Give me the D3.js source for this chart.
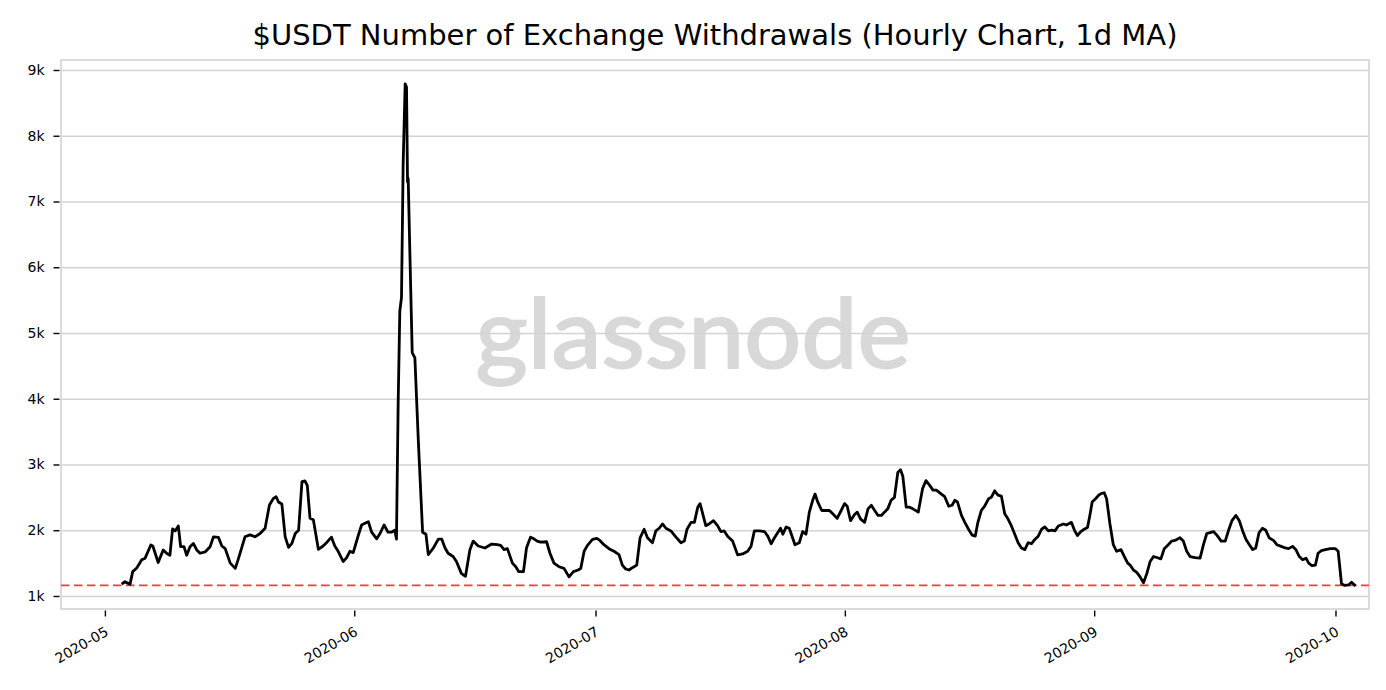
<!DOCTYPE html>
<html>
<head>
<meta charset="utf-8">
<script src="https://cdn.jsdelivr.net/npm/d3@7"></script>
<style>
    body { margin: 0; background: #fff; }
    .axis text { font-family: "DejaVu Sans", sans-serif; font-size: 14px; fill: #000; }
    .axis line { stroke: #000; stroke-width: 1.4; }
    .axis path { display: none; }
    .grid line { stroke: #d3d3d3; stroke-width: 1.3; }
    .grid path { display: none; }
</style>
</head>
<body>
<div id="chart"></div>
<script>
//hours since 2020-05-01 00:00 UTC
var hours = [50, 60, 75, 83, 95, 110, 120, 137, 143, 159, 174, 184, 194, 202, 210, 219, 226, 236, 244, 254,
    264, 274, 284, 299, 314, 324, 339, 349, 359, 374, 389, 398, 418, 433, 448, 463, 478, 491, 503, 511,
    518, 528, 538, 548, 558, 568, 578,
    588, 597, 604, 612, 622, 637, 651, 662, 676, 686, 696, 711, 721, 731, 741, 756, 766, 776, 786, 796,
    811, 821, 833, 845, 855, 865, 870, 875, 880, 885, 890, 896, 900, 903, 905, 910, 917, 925, 935, 948,
    958, 965, 980, 995, 1005, 1015, 1024, 1039, 1049, 1064, 1076, 1089, 1099, 1114, 1134, 1154,
    1171, 1181, 1191, 1201, 1216, 1226, 1235, 1249, 1258, 1270, 1280, 1290, 1300, 1318, 1328, 1340, 1355, 1370,
    1385, 1398, 1412, 1420, 1430, 1440, 1455, 1468, 1477, 1489, 1504, 1519, 1534, 1544, 1554, 1564, 1574, 1587, 1597, 1609,
    1619, 1634, 1644, 1654, 1664, 1674, 1689, 1704, 1719, 1729, 1737, 1749, 1759, 1769, 1776, 1793, 1803, 1816, 1828, 1838,
    1848, 1858, 1873, 1888, 1903, 1918, 1928, 1938, 1953, 1968, 1978, 1988, 1998, 2008, 2016, 2023, 2033, 2042, 2052, 2059,
    2072, 2082, 2092, 2102, 2112, 2119, 2127, 2139, 2152, 2162, 2172, 2185, 2197, 2207, 2215, 2225, 2237, 2245, 2255, 2267,
    2277, 2287, 2297, 2307, 2317, 2326, 2336, 2346, 2356, 2366, 2374, 2381, 2391, 2401, 2411, 2427, 2440, 2450, 2460, 2471,
    2481, 2496, 2506, 2518, 2528, 2536, 2544, 2556, 2566, 2577, 2588, 2597, 2605, 2615, 2625, 2637, 2645, 2655, 2665, 2675,
    2685, 2695, 2705, 2715, 2725, 2735, 2745, 2755, 2765, 2775, 2785, 2795, 2805, 2815, 2825, 2835, 2845, 2860, 2869, 2884,
    2894, 2902, 2912, 2922, 2932, 2939, 2946, 2956, 2966, 2974, 2982, 2989, 2999, 3009, 3019, 3032, 3042, 3052, 3059, 3069,
    3079, 3089, 3099, 3109, 3119, 3129, 3139, 3151, 3161, 3173, 3183, 3193, 3208, 3218, 3228, 3238, 3253, 3268, 3278, 3288,
    3298, 3308, 3318, 3331, 3343, 3353, 3363, 3375, 3385, 3395, 3405, 3415, 3425, 3434, 3444, 3454, 3464, 3474, 3487, 3497,
    3510, 3522, 3532, 3544, 3554, 3564, 3574, 3584, 3592, 3602, 3612, 3620, 3630, 3642, 3657, 3672, 3680, 3690, 3700, 3712,
    3720, 3732];

//number of withdrawals, 1d moving average
var withdrawals = [1180, 1218, 1180, 1370, 1425, 1550, 1575, 1775, 1760, 1510, 1700, 1650, 1620, 2020, 1990, 2065, 1750, 1750, 1620, 1750,
    1800, 1700, 1650, 1670, 1750, 1900, 1890, 1760, 1720, 1500, 1420, 1560, 1900, 1930, 1900, 1950, 2030, 2385, 2485, 2510,
    2430, 2400, 1900, 1740, 1800, 1950, 2000,
    2740, 2750, 2680, 2184, 2160, 1710, 1760, 1815, 1895, 1760, 1680, 1525, 1580, 1680, 1660, 1920, 2080, 2105, 2130, 1970,
    1870, 1950, 2080, 1970, 1970, 2000, 1865, 3910, 5330, 5540, 7580, 8790, 8740, 7300, 7350, 6220, 4700, 4620, 3390, 1970,
    1940, 1630, 1730, 1865, 1865, 1730, 1650, 1600, 1525, 1340, 1300, 1700, 1835, 1760, 1730, 1790,
    1780, 1770, 1705, 1720, 1500, 1445, 1370, 1370, 1730, 1895, 1870, 1835, 1820, 1825, 1650, 1500, 1445, 1420,
    1290, 1370, 1395, 1420, 1680, 1770, 1860, 1875, 1845, 1780, 1720, 1680, 1630, 1470, 1410, 1395, 1430, 1470, 1885, 2015,
    1885, 1810, 1990, 2030, 2095, 2030, 1990, 1895, 1810, 1835, 2015, 2120, 2120, 2350, 2405, 2070, 2095, 2145, 2070, 1980,
    1990, 1910, 1835, 1625, 1640, 1680, 1755, 1990, 1990, 1980, 1910, 1795, 1885, 1965, 2030, 1940, 2050, 2030, 1885, 1780,
    1810, 1980, 1940, 2275, 2455, 2550, 2430, 2300, 2300, 2300, 2250, 2180, 2300, 2405, 2365, 2145, 2240, 2275, 2170, 2120,
    2325, 2380, 2300, 2225, 2225, 2275, 2325, 2455, 2500, 2880, 2920, 2820, 2350, 2350, 2325, 2275, 2635, 2755, 2690, 2610,
    2610, 2550, 2510, 2365, 2380, 2455, 2430, 2225, 2120, 2015, 1925, 1910, 2120, 2300, 2365, 2480, 2500, 2600, 2535, 2520,
    2250, 2170, 2065, 1940, 1810, 1730, 1705, 1810, 1795, 1860, 1910, 2015, 2050, 1990, 2000, 1990, 2065, 2095, 2080, 2120,
    1990, 1920, 1980, 2015, 2040, 2225, 2430, 2480, 2535, 2560, 2570, 2480, 2095, 1780, 1680, 1705, 1600, 1500, 1470, 1395,
    1360, 1290, 1200, 1340, 1525, 1600, 1585, 1565, 1720, 1780, 1835, 1845, 1885, 1835, 1680, 1600, 1585, 1575, 1780, 1950,
    1965, 1980, 1925, 1835, 1835, 2000, 2145, 2225, 2145, 1990, 1860, 1780, 1705, 1730, 1965, 2030, 2000, 1885, 1845, 1780,
    1755, 1730, 1720, 1755, 1705, 1600, 1550, 1575, 1500, 1460, 1470, 1650, 1690, 1705, 1720, 1720, 1680, 1185, 1160, 1170,
    1210, 1150];

var yTicks = [1000, 2000, 3000, 4000, 5000, 6000, 7000, 8000, 9000];
var baseline = 1160; //red dashed reference level
var xRange = [-131, 3772]; //visible hours on the x-axis
var yRange = [802, 9152];

function init() {

    //width and height of the figure
    var w = 1386;
    var h = 690;
    var left = 61, right = 1369, top = 60, bottom = 609;

    var start = Date.UTC(2020, 4, 1);
    var toDate = function (hr) { return new Date(start + hr * 3600e3); };

    var dataset = hours.map(function (hr, i) {
        return { time: toDate(hr), value: withdrawals[i] };
    });

    //Defines the x-scale
    var xScale = d3.scaleUtc()
        .domain([toDate(xRange[0]), toDate(xRange[1])])
        .range([left, right]);

    //defines the y-scale
    var yScale = d3.scaleLinear()
        .domain(yRange)
        .range([bottom, top]);

    var svg = d3.select("#chart")
        .append("svg")
        .attr("width", w)
        .attr("height", h);

    //watermark sits behind the grid
    svg.append("text")
        .attr("x", w / 2)
        .attr("y", 368)
        .attr("text-anchor", "middle")
        .attr("textLength", 435)
        .attr("lengthAdjust", "spacingAndGlyphs")
        .style("font-family", "Lato, sans-serif")
        .style("font-size", "96px")
        .style("font-weight", "400")
        .style("fill", "#d8d8d8")
        .style("stroke", "#d8d8d8")
        .style("stroke-width", "2px")
        .text("glassnode");

    //horizontal grid lines
    svg.append("g")
        .attr("class", "grid")
        .attr("transform", "translate(" + left + ",0)")
        .call(d3.axisLeft(yScale).tickValues(yTicks).tickSize(-(right - left)).tickFormat(""));

    //frame
    svg.append("rect")
        .attr("x", left)
        .attr("y", top)
        .attr("width", right - left)
        .attr("height", bottom - top)
        .attr("fill", "none")
        .attr("stroke", "#d3d3d3")
        .attr("stroke-width", 1.6);

    //red dashed level
    svg.append("line")
        .attr("x1", left)
        .attr("x2", right)
        .attr("y1", yScale(baseline))
        .attr("y2", yScale(baseline))
        .attr("stroke", "#ff3a3a")
        .attr("stroke-width", 1.8)
        .attr("stroke-dasharray", "8.5,4.5");

    var line = d3.line()
        .x(function (d) { return xScale(d.time); })
        .y(function (d) { return yScale(d.value); });

    svg.append("path")
        .datum(dataset)
        .attr("fill", "none")
        .attr("stroke", "#000")
        .attr("stroke-width", 2.8)
        .attr("stroke-linejoin", "round")
        .attr("d", line);

    //Creates the y-axis
    svg.append("g")
        .attr("class", "axis")
        .attr("transform", "translate(" + (left - 1.5) + ",0)")
        .call(d3.axisLeft(yScale)
            .tickValues(yTicks)
            .tickSize(6)
            .tickPadding(9)
            .tickFormat(function (d) { return (d / 1000) + "k"; }));

    //Creates the x-axis
    var xAxis = svg.append("g")
        .attr("class", "axis")
        .attr("transform", "translate(0," + (bottom + 1.5) + ")")
        .call(d3.axisBottom(xScale)
            .ticks(d3.utcMonth.every(1))
            .tickSize(6)
            .tickFormat(d3.utcFormat("%Y-%m")));

    xAxis.selectAll("text")
        .attr("text-anchor", "end")
        .attr("dy", "0.35em")
        .attr("transform", "translate(-3,12) rotate(-30)");

    //title
    svg.append("text")
        .attr("x", (left + right) / 2)
        .attr("y", 45)
        .attr("text-anchor", "middle")
        .style("font-family", "DejaVu Sans, sans-serif")
        .style("font-size", "29px")
        .text("$USDT Number of Exchange Withdrawals (Hourly Chart, 1d MA)");
}

window.onload = init;
</script>
</body>
</html>
